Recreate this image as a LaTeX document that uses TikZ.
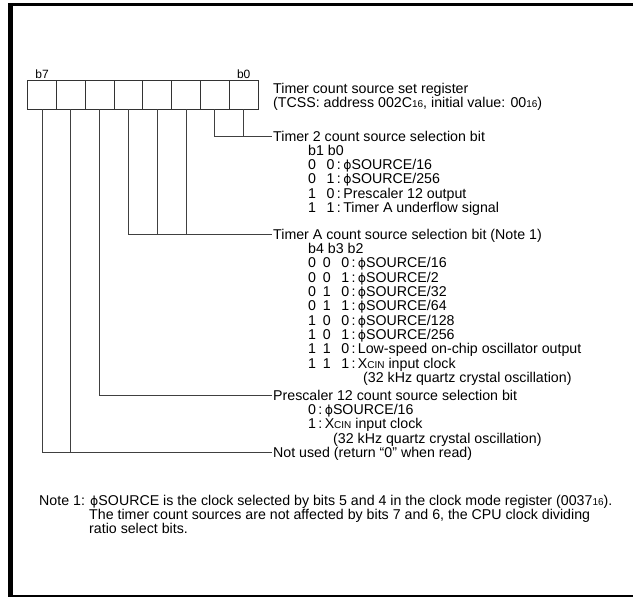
\documentclass[tikz,border=0pt]{standalone}
\usepackage{fontspec}
\setmainfont{Liberation Sans}
\newfontfamily\phfont[Scale=0.88]{DejaVu Sans}
\usetikzlibrary{positioning}
\newcommand\ph{{\phfont ϕ}}
\newcommand\sm[1]{{\fontsize{10}{10}\selectfont #1}}
\newcommand\hexsub[1]{\raisebox{-.8pt}{\sm{#1}}}
\newcommand\xcin{X\sm{CIN}}
\newcommand\dg[1]{\makebox[14.6pt][l]{#1}}

\begin{document}
\begin{tikzpicture}[x=1pt,y=-1pt,
  txt/.style={anchor=west,inner sep=0pt,text height=10pt,text depth=0pt,font=\fontsize{14.2}{14.2}\selectfont},
  bitlbl/.style={inner sep=0pt,font=\fontsize{12}{12}\selectfont},
  cell/.style={draw=black!80,minimum width=28.8pt,minimum height=28.3pt,inner sep=0pt,line width=.9pt},
  wire/.style={draw=black!75,line width=.9pt,shorten >=1pt}]
\useasboundingbox (0,0) rectangle (633,597);
\draw[line width=3pt](8.3,4.5)--(633,4.5);
\draw[line width=4.4pt](10.5,3)--(10.5,597);
\draw[line width=1.5pt](8.3,596)--(633,596);
\foreach \k in {0,...,7}
  \node[cell] (c\k) at ({42.1+28.8*(7-\k)},94.85) {};
\node[bitlbl,above=1.3pt of c7] (l7) {b7};
\node[bitlbl,above=1.3pt of c0] (l0) {b0};
\node[txt] (reg) at (273,88) {Timer count source set register};
\node[txt] (regaddr) at (273,102) {(TCSS: address 002C\hexsub{16}, initial value: 00\hexsub{16})};
\node[txt] (t2) at (273,136) {Timer 2 count source selection bit};
\foreach \r [count=\i] in {b1 b0,
    \dg0 0\,:\,\ph SOURCE/16,
    \dg0 1\,:\,\ph SOURCE/256,
    \dg1 0\,:\,Prescaler 12 output,
    \dg1 1\,:\,Timer A underflow signal}
  \node[txt] (t2r\i) at (308,{136+14.3*\i}) {\r};
\node[txt] (ta) at (273,234) {Timer A count source selection bit (Note 1)};
\foreach \r [count=\i] in {b4 b3 b2,
    \dg0\dg0 0\,:\,\ph SOURCE/16,
    \dg0\dg0 1\,:\,\ph SOURCE/2,
    \dg0\dg1 0\,:\,\ph SOURCE/32,
    \dg0\dg1 1\,:\,\ph SOURCE/64,
    \dg1\dg0 0\,:\,\ph SOURCE/128,
    \dg1\dg0 1\,:\,\ph SOURCE/256,
    \dg1\dg1 0\,:\,Low-speed on-chip oscillator output,
    \dg1\dg1 1\,:\,\xcin{} input clock}
  \node[txt] (tar\i) at (308,{234+14.35*\i}) {\r};
\node[txt] (taq) at (363,{234+14.35*10}) {(32 kHz quartz crystal oscillation)};
\node[txt] (pre) at (273,395) {Prescaler 12 count source selection bit};
\node[txt] (prer1) at (308,409.4) {0\,:\,\ph SOURCE/16};
\node[txt] (prer2) at (308,423.7) {1\,:\,\xcin{} input clock};
\node[txt] (preq) at (333,438) {(32 kHz quartz crystal oscillation)};
\node[txt] (nu) at (273,452.4) {Not used (return “0” when read)};
\foreach \a/\b in {c1/t2,c0/t2,c4/ta,c3/ta,c2/ta,c5/pre,c7/nu,c6/nu}
  \draw[wire] (\a.south) |- (\b.west);
\node[txt] (n1) at (39,500) {Note 1: \ph SOURCE is the clock selected by bits 5 and 4 in the clock mode register (0037\hexsub{16}).};
\node[txt] (n2) at (89,514) {The timer count sources are not affected by bits 7 and 6, the CPU clock dividing};
\node[txt] (n3) at (89,528) {ratio select bits.};
\end{tikzpicture}
\end{document}
